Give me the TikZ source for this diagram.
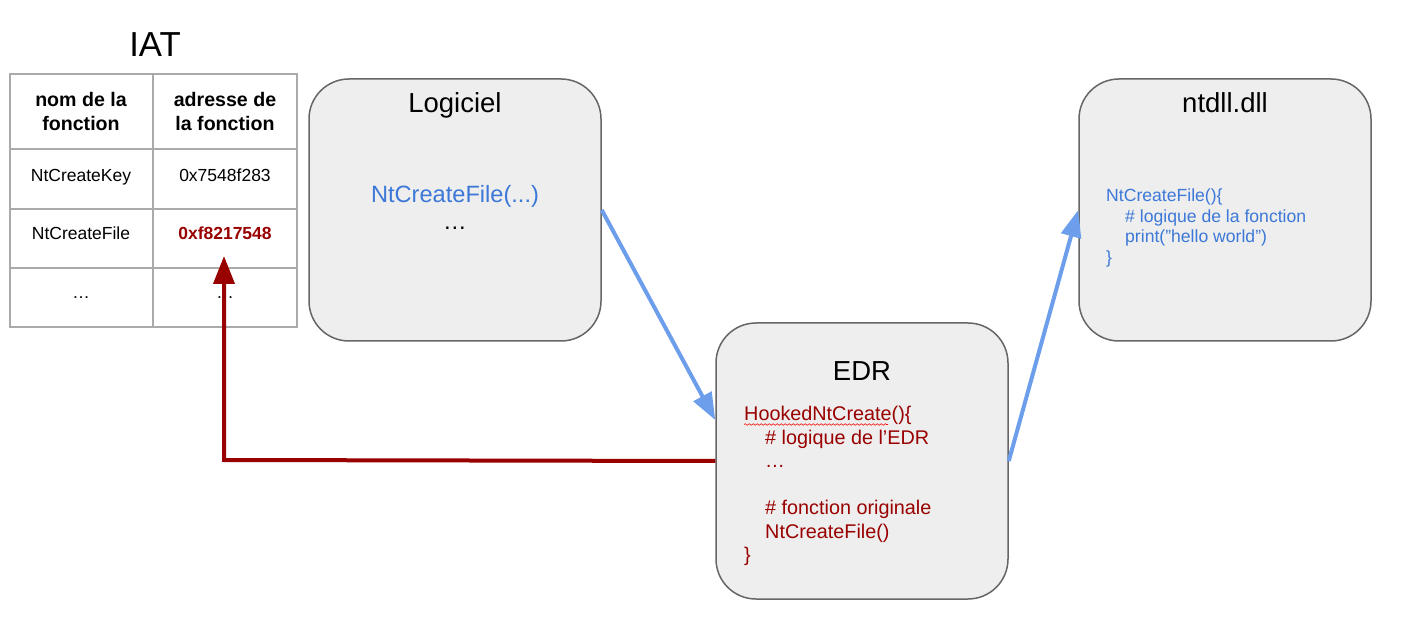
\documentclass[tikz,border=0pt]{standalone}
\usepackage{fontspec}
\setmainfont{Liberation Sans}
\usetikzlibrary{arrows.meta,decorations.pathmorphing}
\definecolor{boxfill}{HTML}{EEEEEE}
\definecolor{boxline}{HTML}{666666}
\definecolor{codeblue}{HTML}{3C78D8}
\definecolor{arrowblue}{HTML}{6D9EEB}
\definecolor{darkred}{HTML}{990000}
\definecolor{tabline}{HTML}{AAAAAA}
\tikzset{
  bloc/.style={draw=boxline, line width=1.5pt, fill=boxfill, rounded corners=40pt,
    minimum width=292pt, minimum height=262pt, inner sep=0pt},
  titre/.style={font=\fontsize{27.5}{33}\selectfont, anchor=base, inner sep=0pt},
  cellule/.style={font=\fontsize{17.5}{21}\selectfont, anchor=base, inner sep=0pt},
  entete/.style={font=\fontsize{19.6}{23.6}\selectfont\bfseries, anchor=base, inner sep=0pt},
  codeedr/.style={font=\fontsize{19.8}{24}\selectfont, text=darkred, anchor=base west, inner sep=0pt},
  codedll/.style={font=\fontsize{17.6}{21}\selectfont, text=codeblue, anchor=base west, inner sep=0pt},
  fleche bleue/.style={draw=arrowblue, line width=4pt, -{Triangle[length=27pt,width=20pt]}},
  fleche rouge/.style={draw=darkred, line width=4pt, -{Triangle[length=28pt,width=21pt]}},
}
\begin{document}
\begin{tikzpicture}[x=1pt,y=-1pt]
    \useasboundingbox (0,0) rectangle (1403,617);

    % table IAT
    \node[titre, font=\fontsize{34.7}{40}\selectfont] (iat) at (155,57) {IAT};
    \draw[tabline, line width=1.5pt] (10,74) rectangle (297,327);
    \draw[tabline, line width=1.5pt] (153,74)--(153,327);
    \foreach \y in {149,209,268}
{
    \draw[tabline, line width=1.5pt] (10,\y)--(297,\y);
}
    \node[entete] (nom1) at (81,107) {nom de la};
    \node[entete] (nom2) at (81,131) {fonction};
    \node[entete] (adr1) at (225,107) {adresse de};
    \node[entete] (adr2) at (225,131) {la fonction};
    \node[cellule] (key) at (81,182) {NtCreateKey};
    \node[cellule] (keyadr) at (225,182) {0x7548f283};
    \node[cellule] (file) at (81,240) {NtCreateFile};
    \node[cellule, font=\fontsize{17.5}{21}\selectfont\bfseries, text=darkred] (fileadr) at (225,240) {0xf8217548};
    \node[cellule] (etc) at (81,299) {…};
    \node[cellule] (etcadr) at (225,299) {…};

    % blocs
    \node[bloc] (logiciel) at (455,210) {};
    \node[bloc, minimum height=276pt] (edr) at (862,461) {};
    \node[bloc] (ntdll) at (1225,210) {};

    \node[titre] (tlog) at (455,113) {Logiciel};
    \node[titre] (tedr) at (862,381) {EDR};
    \node[titre] (tdll) at (1225,113) {ntdll.dll};

    \node[titre, font=\fontsize{23.6}{28}\selectfont, text=codeblue] (appel) at (455,203) {NtCreateFile(...)};
    \node[titre, font=\fontsize{23.6}{28}\selectfont] (suite) at (455,230) {…};

    \node[codeedr] (hook) at (744,420.5) {HookedNtCreate()\{};
    \node[codeedr] (e2) at (765,444) {\# logique de l’EDR};
    \node[codeedr] (e3) at (765,467.5) {…};
    \node[codeedr] (e4) at (765,514.5) {\# fonction originale};
    \node[codeedr] (e5) at (765,538) {NtCreateFile()};
    \node[codeedr] (e6) at (744,561.5) {\}};
    \draw[red, line width=0.6pt, decorate, decoration={snake, amplitude=0.8pt, segment length=4pt}]
        ([yshift=-4pt]hook.base west) -- ++(144,0);

    \node[codedll] (d1) at (1106,201.5) {NtCreateFile()\{};
    \node[codedll] (d2) at (1125,222.2) {\# logique de la fonction};
    \node[codedll] (d3) at (1125,242.9) {print("hello world")};
    \node[codedll] (d4) at (1106,263.2) {\}};

    % fleches
    \coordinate (coin) at (224,460);
    \coordinate (pointe) at (224,256);
    \draw[fleche bleue] (logiciel.east) -- ([yshift=41pt]edr.west);
    \draw[fleche bleue] (edr.east) -- (ntdll.west);
    \draw[fleche rouge] (edr.west) -- (coin) -- (pointe);
\end{tikzpicture}
\end{document}
